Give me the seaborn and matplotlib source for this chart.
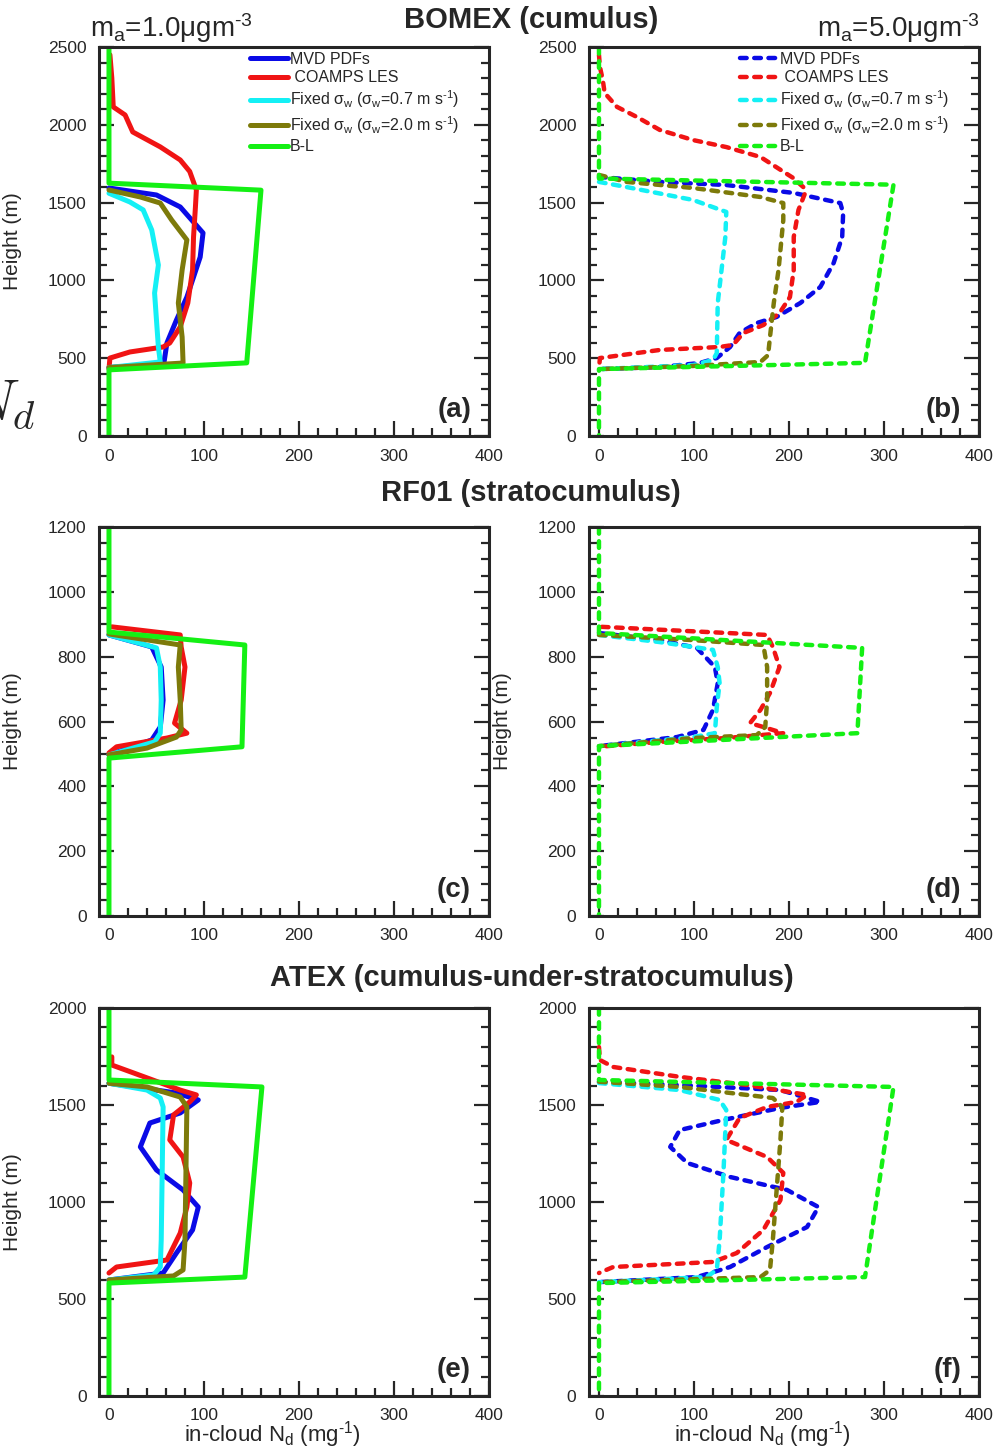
import matplotlib
matplotlib.use("Agg")
import matplotlib.pyplot as plt
import seaborn as sns
import pandas as pd
from matplotlib.ticker import MultipleLocator

# ---------------- data (N_d in mg^-1, height in m) ----------------
LABELS = ["MVD PDFs", " COAMPS LES",
          "Fixed σ$_{\\rm w}$ (σ$_{\\rm w}$=0.7 m s$^{\\text{-1}}$)",
          "Fixed σ$_{\\rm w}$ (σ$_{\\rm w}$=2.0 m s$^{\\text{-1}}$)",
          "B-L"]
COLORS = ["#0a0ae6", "#f01414", "#14f0f5", "#7d7a0a", "#14f014"]

# (a) BOMEX, 1.0
a_mvd_n = [0, 50, 75, 99, 96, 82, 71, 61, 58, 56, 0]
a_mvd_z = [1594, 1549, 1472, 1305, 1150, 893, 745, 598, 476, 465, 440]
a_les_n = [1, 3, 4.5, 17, 25, 54, 75, 85, 92, 91, 89, 88, 83, 75, 64, 57, 22, 1, 0]
a_les_z = [2450, 2300, 2115, 2063, 1954, 1858, 1774, 1700, 1581, 1472, 1279, 1067, 855, 701, 598, 572, 540, 501, 430]
a_c07_n = [0, 22, 36, 45, 52, 48, 50, 52, 54, 0]
a_c07_z = [1560, 1504, 1453, 1324, 1099, 919, 745, 572, 476, 440]
a_c20_n = [0, 33, 54, 66, 82, 77, 73, 77, 78, 0]
a_c20_z = [1581, 1536, 1497, 1388, 1260, 1067, 855, 636, 469, 440]
a_bl_n = [0, 0, 160, 145, 0, 0]
a_bl_z = [2500, 1625, 1580, 470, 425, 0]

# (b) BOMEX, 5.0
b_mvd_n = [0, 64, 134, 205, 254, 257, 256, 247, 233, 212, 187, 166, 148, 138, 124, 106, 64, 0]
b_mvd_z = [1665, 1633, 1613, 1562, 1497, 1433, 1279, 1112, 958, 855, 765, 726, 662, 572, 501, 469, 443, 430]
b_les_n = [0, 1, 4, 6, 19, 40, 64, 99, 134, 170, 204, 215, 217, 210, 205, 205, 201, 190, 173, 152, 141, 127, 64, 1, 0]
b_les_z = [2450, 2372, 2288, 2204, 2115, 2050, 1967, 1902, 1857, 1793, 1660, 1600, 1562, 1453, 1279, 1067, 893, 790, 713, 662, 585, 572, 553, 501, 430]
b_c07_n = [0, 29, 99, 134, 133, 129, 125, 124, 120, 99, 0]
b_c07_z = [1633, 1600, 1517, 1440, 1279, 1067, 855, 533, 488, 456, 430]
b_c20_n = [0, 29, 99, 170, 194, 194, 189, 184, 180, 178, 170, 99, 0]
b_c20_z = [1678, 1633, 1594, 1536, 1497, 1388, 1067, 855, 636, 520, 476, 450, 430]
b_bl_n = [0, 0, 310, 280, 0, 0]
b_bl_z = [2500, 1655, 1615, 470, 430, 0]

# (c) RF01, 1.0
c_mvd_n = [0, 45, 55, 57, 54, 45, 0]
c_mvd_z = [867, 830, 768, 666, 583, 543, 497]
c_les_n = [3, 75, 76, 80, 76, 69, 82, 61, 8, 0]
c_les_z = [892, 867, 830, 768, 666, 595, 564, 549, 522, 503]
c_c07_n = [0, 50, 54, 55, 54, 48, 0]
c_c07_z = [867, 827, 768, 666, 564, 537, 497]
c_c20_n = [0, 75, 73, 75, 76, 71, 40, 0]
c_c20_z = [870, 836, 768, 666, 574, 552, 518, 497]
c_bl_n = [0, 0, 143, 140, 0, 0]
c_bl_z = [1200, 876, 836, 522, 487, 0]

# (d) RF01, 5.0
d_mvd_n = [0, 64, 103, 122, 125, 120, 110, 82, 0]
d_mvd_z = [873, 851, 827, 768, 718, 636, 574, 552, 524]
d_les_n = [3, 177, 183, 190, 180, 170, 159, 173, 194, 134, 64, 0]
d_les_z = [892, 867, 830, 768, 688, 636, 595, 583, 564, 549, 537, 522]
d_c07_n = [0, 64, 120, 125, 127, 124, 122, 99, 0]
d_c07_z = [867, 845, 821, 768, 718, 645, 564, 552, 524]
d_c20_n = [0, 99, 173, 177, 177, 175, 166, 99, 0]
d_c20_z = [867, 851, 836, 768, 666, 583, 558, 549, 524]
d_bl_n = [0, 0, 277, 272, 0, 0]
d_bl_z = [1200, 873, 827, 564, 524, 0]

# (e) ATEX, 1.0
e_mvd_n = [0, 71, 94, 75, 43, 33, 50, 78, 94, 88, 71, 57, 0]
e_mvd_z = [1612, 1562, 1526, 1459, 1407, 1284, 1165, 1062, 974, 856, 737, 634, 598]
e_les_n = [3, 3, 26, 75, 92, 85, 68, 64, 78, 85, 82, 75, 61, 8, 0]
e_les_z = [1748, 1706, 1665, 1577, 1552, 1516, 1449, 1320, 1232, 1098, 974, 840, 701, 665, 634]
e_c07_n = [0, 40, 54, 57, 56, 55, 54, 47, 0]
e_c07_z = [1612, 1577, 1536, 1490, 1150, 804, 665, 624, 598]
e_c20_n = [0, 40, 75, 82, 81, 80, 78, 68, 0]
e_c20_z = [1612, 1593, 1541, 1490, 1150, 804, 650, 619, 598]
e_bl_n = [0, 0, 161, 143, 0, 0]
e_bl_z = [2000, 1629, 1593, 613, 582, 0]

# (f) ATEX, 5.0
f_mvd_n = [0, 85, 191, 233, 191, 131, 85, 75, 93, 138, 198, 231, 219, 177, 138, 103, 0]
f_mvd_z = [1620, 1603, 1577, 1516, 1485, 1423, 1371, 1284, 1201, 1129, 1062, 974, 871, 768, 665, 613, 587]
f_les_n = [0, 1, 15, 85, 156, 219, 208, 177, 148, 134, 177, 194, 191, 173, 145, 120, 15, 0]
f_les_z = [1799, 1732, 1696, 1645, 1603, 1552, 1516, 1490, 1433, 1320, 1232, 1150, 1010, 856, 737, 691, 665, 634]
f_c07_n = [0, 85, 127, 134, 131, 127, 124, 113, 0]
f_c07_z = [1613, 1577, 1526, 1474, 1150, 804, 650, 613, 587]
f_c20_n = [0, 85, 183, 193, 191, 187, 183, 180, 170, 0]
f_c20_z = [1620, 1593, 1536, 1490, 1320, 1062, 804, 650, 613, 587]
f_bl_n = [0, 0, 310, 280, 0, 0]
f_bl_z = [2000, 1629, 1593, 613, 582, 0]

PANELS = {
    "a": [(a_mvd_n, a_mvd_z), (a_les_n, a_les_z), (a_c07_n, a_c07_z), (a_c20_n, a_c20_z), (a_bl_n, a_bl_z)],
    "b": [(b_mvd_n, b_mvd_z), (b_les_n, b_les_z), (b_c07_n, b_c07_z), (b_c20_n, b_c20_z), (b_bl_n, b_bl_z)],
    "c": [(c_mvd_n, c_mvd_z), (c_les_n, c_les_z), (c_c07_n, c_c07_z), (c_c20_n, c_c20_z), (c_bl_n, c_bl_z)],
    "d": [(d_mvd_n, d_mvd_z), (d_les_n, d_les_z), (d_c07_n, d_c07_z), (d_c20_n, d_c20_z), (d_bl_n, d_bl_z)],
    "e": [(e_mvd_n, e_mvd_z), (e_les_n, e_les_z), (e_c07_n, e_c07_z), (e_c20_n, e_c20_z), (e_bl_n, e_bl_z)],
    "f": [(f_mvd_n, f_mvd_z), (f_les_n, f_les_z), (f_c07_n, f_c07_z), (f_c20_n, f_c20_z), (f_bl_n, f_bl_z)],
}
YLIMS = {"a": 2500, "b": 2500, "c": 1200, "d": 1200, "e": 2000, "f": 2000}
YMAJ = {"a": 500, "b": 500, "c": 200, "d": 200, "e": 500, "f": 500}
YMIN = {"a": 100, "b": 100, "c": 50, "d": 50, "e": 100, "f": 100}

# ---------------- style ----------------
sns.set_style("ticks")
plt.rcParams["font.family"] = ["Liberation Sans", "DejaVu Sans"]
plt.rcParams["mathtext.fontset"] = "custom"
plt.rcParams["mathtext.rm"] = "Liberation Sans"
plt.rcParams["mathtext.it"] = "Liberation Sans:italic"
plt.rcParams["mathtext.bf"] = "Liberation Sans:bold"

W, H = 995, 1448
fig = plt.figure(figsize=(W / 100, H / 100), dpi=100)

def px_axes(l, t, r, b):
    return fig.add_axes([l / W, 1 - b / H, (r - l) / W, (b - t) / H])

rects = {
    "a": (99, 47, 489, 436), "b": (589, 47, 979, 436),
    "c": (99, 527, 489, 916), "d": (589, 527, 979, 916),
    "e": (99, 1008, 489, 1396), "f": (589, 1008, 979, 1396),
}

for key, rect in rects.items():
    ax = px_axes(*rect)
    dashed = key in ("b", "d", "f")
    for i, (n, z) in enumerate(PANELS[key]):
        df = pd.DataFrame({"n": n, "z": z})
        kw = dict(lw=3.6, solid_capstyle="round", solid_joinstyle="round")
        if dashed:
            kw = dict(lw=3.2, linestyle=(0, (1.5, 1.7)), dash_capstyle="round")
        sns.lineplot(data=df, x="n", y="z", sort=False, estimator=None,
                     color=COLORS[i], label=LABELS[i], legend=False, ax=ax, **kw)
    ax.set_xlim(-10.5, 400)
    ax.set_ylim(0, YLIMS[key])
    ax.xaxis.set_major_locator(MultipleLocator(100))
    ax.xaxis.set_minor_locator(MultipleLocator(20))
    ax.yaxis.set_major_locator(MultipleLocator(YMAJ[key]))
    ax.yaxis.set_minor_locator(MultipleLocator(YMIN[key]))
    ax.tick_params(which="both", direction="in", right=True, top=False,
                   labelsize=12.5, width=1.6, pad=9)
    ax.tick_params(which="major", length=11)
    ax.tick_params(which="minor", length=6)
    for s in ax.spines.values():
        s.set_linewidth(2.2)
    ax.set_xlabel("")
    ax.set_ylabel("")
    if key in ("a", "c", "e", "d"):
        ax.set_ylabel("Height (m)", fontsize=15)
        ax.yaxis.set_label_coords(-0.197, 0.5)
    if key in ("e", "f"):
        ax.set_xlabel("in-cloud N$_{\\rm d}$ (mg$^{\\text{-1}}$)", fontsize=16)
        ax.xaxis.set_label_coords(0.444, -0.06)
    ax.text(0.954, 0.067, f"({key})", transform=ax.transAxes, ha="right",
            va="center", fontsize=20, fontweight="bold")
    if key in ("a", "b"):
        h, l = ax.get_legend_handles_labels()
        ax.legend(h, l, loc="upper left", bbox_to_anchor=(0.387, 0.988),
                  frameon=False, fontsize=11.5, handlelength=2.4,
                  handletextpad=0.12, labelspacing=0.22, borderpad=0,
                  borderaxespad=0)

fig.text(531 / W, 1 - 20 / H, "BOMEX (cumulus)", ha="center", va="center",
         fontsize=21, fontweight="bold")
fig.text(531 / W, 1 - 493 / H, "RF01 (stratocumulus)", ha="center", va="center",
         fontsize=21, fontweight="bold")
fig.text(532 / W, 1 - 978 / H, "ATEX (cumulus-under-stratocumulus)", ha="center",
         va="center", fontsize=21, fontweight="bold")
fig.text(90 / W, 1 - 28 / H, "m$_{\\rm a}$=1.0μgm$^{\\text{-3}}$", ha="left",
         va="center", fontsize=20)
fig.text(980 / W, 1 - 28 / H, "m$_{\\rm a}$=5.0μgm$^{\\text{-3}}$", ha="right",
         va="center", fontsize=20)
fig.text(-34 / W, 1 - 405 / H, r"$N_d$", ha="left", va="center", fontsize=42,
         math_fontfamily="cm")

fig.savefig("out.png", dpi=100)
